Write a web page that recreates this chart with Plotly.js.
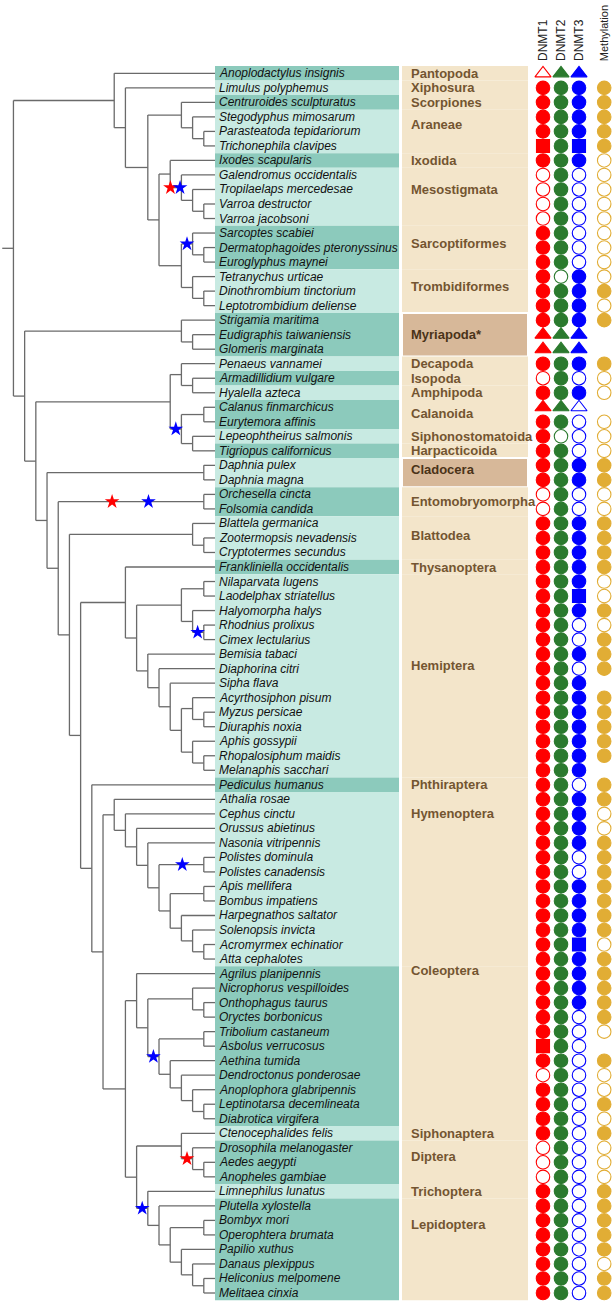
<!DOCTYPE html>
<html><head><meta charset="utf-8">
<script src="https://cdn.plot.ly/plotly-3.0.1.min.js"></script>
<style>html,body{margin:0;padding:0;background:#fff}#chart{width:612px;height:1302px}</style>
</head><body><div id="chart"></div>
<script>
// ---------------- DATA ----------------
const species = [
"Anoplodactylus insignis","Limulus polyphemus","Centruroides sculpturatus","Stegodyphus mimosarum",
"Parasteatoda tepidariorum","Trichonephila clavipes","Ixodes scapularis","Galendromus occidentalis",
"Tropilaelaps mercedesae","Varroa destructor","Varroa jacobsoni","Sarcoptes scabiei",
"Dermatophagoides pteronyssinus","Euroglyphus maynei","Tetranychus urticae","Dinothrombium tinctorium",
"Leptotrombidium deliense","Strigamia maritima","Eudigraphis taiwaniensis","Glomeris marginata",
"Penaeus vannamei","Armadillidium vulgare","Hyalella azteca","Calanus finmarchicus",
"Eurytemora affinis","Lepeophtheirus salmonis","Tigriopus californicus","Daphnia pulex",
"Daphnia magna","Orchesella cincta","Folsomia candida","Blattela germanica",
"Zootermopsis nevadensis","Cryptotermes secundus","Frankliniella occidentalis","Nilaparvata lugens",
"Laodelphax striatellus","Halyomorpha halys","Rhodnius prolixus","Cimex lectularius",
"Bemisia tabaci","Diaphorina citri","Sipha flava","Acyrthosiphon pisum",
"Myzus persicae","Diuraphis noxia","Aphis gossypii","Rhopalosiphum maidis",
"Melanaphis sacchari","Pediculus humanus","Athalia rosae","Cephus cinctu",
"Orussus abietinus","Nasonia vitripennis","Polistes dominula","Polistes canadensis",
"Apis mellifera","Bombus impatiens","Harpegnathos saltator","Solenopsis invicta",
"Acromyrmex echinatior","Atta cephalotes","Agrilus planipennis","Nicrophorus vespilloides",
"Onthophagus taurus","Oryctes borbonicus","Tribolium castaneum","Asbolus verrucosus",
"Aethina tumida","Dendroctonus ponderosae","Anoplophora glabripennis","Leptinotarsa decemlineata",
"Diabrotica virgifera","Ctenocephalides felis","Drosophila melanogaster","Aedes aegypti",
"Anopheles gambiae","Limnephilus lunatus","Plutella xylostella","Bombyx mori",
"Operophtera brumata","Papilio xuthus","Danaus plexippus","Heliconius melpomene","Melitaea cinxia"];

// order name, first species index, last species index
const orderNames = ["Pantopoda","Xiphosura","Scorpiones","Araneae","Ixodida","Mesostigmata","Sarcoptiformes",
"Trombidiformes","Myriapoda*","Decapoda","Isopoda","Amphipoda","Calanoida","Siphonostomatoida","Harpacticoida",
"Cladocera","Entomobryomorpha","Blattodea","Thysanoptera","Hemiptera","Phthiraptera","Hymenoptera","Coleoptera",
"Siphonaptera","Diptera","Trichoptera","Lepidoptera"];
const orderFirst = [0,1,2,3,6,7,11,14,17,20,21,22,23,25,26,27,29,31,34,35,49,50,62,73,74,77,78];
const orderLast  = [0,1,2,5,6,10,13,16,19,20,21,22,24,25,26,28,30,33,34,48,49,61,72,73,76,77,84];
const highlightedOrders = ["Myriapoda*","Cladocera"];

// symbol codes: F filled circle, O open circle, T filled triangle, t open triangle, S filled square, - none
const columns = ["DNMT1","DNMT2","DNMT3","Methylation"];
const dnmt1 = "tFFFFSFOOO"+"OFFFFFFFTT"+"FOFTFFFFFO"+"OFFFFFFFFF"+"FFFFFFFFFF"+"FFFFFFFFFF"+"FFFFFFFSFO"+"FFFFOOOFFF"+"FFFFF";
const dnmt2 = "TFFFFFFFFF"+"FFFFOFFFTT"+"FFFTFOFFFF"+"FFFFFFFFFF"+"FFFFFFFFFF"+"FFFFFFFFFF"+"FFFFFFFFFF"+"FFFFFFFFFF"+"FFFFF";
const dnmt3 = "TFFFFSFOOO"+"OOOOFFFFTT"+"FOFtOOOFFO"+"OFFFFFSFOO"+"FOFFFFFFFO"+"FFFFOOFFFF"+"SFFFFOOOOO"+"OOOOOOOOOO"+"OOOOO";
const methylation = "-FFFFFOOOO"+"OOOOOFOF--"+"FOO-OOOFFO"+"OFFFFOOFOF"+"FF-FFFFF-F"+"FOOFFFFFFF"+"OFFFFFO-FO"+"OFOFOOOFFF"+"FFOFF";

// cladogram: leaves = species index, internal label = node level (rank from tips)
const treeNewick = [
"(",
"(0,(1,((2,(3,(4,5)1)2)3,((6,(7,(8,(9,10)1)2)3)4,((11,(12,13)1)2,(14,(15,16)1)2)3)5)6)8)9",
",(",
"(17,(18,19)2)3",
",(",
"((20,(21,22)2)3,((23,24)1,(25,26)2)3)4",
",((27,28)1,((29,30)1,((31,(32,33)1)2,(",
"(34,(((35,36)1,(37,(38,39)1)2)3,(40,(41,(42,((43,(44,45)1)2,(46,(47,48)1)2)3)4)5)6)7)8",
",(49,(",
"(50,(51,(52,(53,((54,55)1,((56,57)1,(58,(59,(60,61)1)2)3)4)5)6)7)8)9",
",(",
"(62,((63,(64,65)1)2,((66,67)1,(68,(69,(70,(71,72)1)2)3)4)5)6)7",
",",
"((73,(74,(75,76)1)2)3,(77,(78,((79,80)1,(81,(82,(83,84)1)2)3)4)5)6)7",
")8)10)11)12)13)14)15)16)17)18"].join("");

// stars on branches: clade (first leaf, last leaf), colour, position along branch
const starFirst = [7,7,11,23,29,29,38,54,66,74,77];
const starLast  = [10,10,13,26,30,30,39,55,72,76,84];
const starColor = ["red","blue","blue","blue","red","blue","blue","blue","blue","red","blue"];
const starFrac  = [0.02,0.88,0.5,0.5,0.37,0.62,0.45,0.52,0.5,0.5,0.5];

// ---------------- LAYOUT / STYLE ----------------
const W = 612, H = 1302;
const rowTop = -5.05, rowBottom = 84.62;        // y range in row units
const treeRight = 215;                            // px where tips end
const levelsAcross = 19.2;
const labelX0 = 215, labelX1 = 399, orderX0 = 402, orderX1 = 528;
const darkTeal = "#8ccabc", lightTeal = "#c8eae2", tan = "#f3e5ca", darkTan = "#d7b899";
const orderLabelRow = [0,1,2,3.5,6,8,11.7,14.7,18,20,21,22,23.4,25,26,27.3,29.5,31.8,34,40.8,49,51,61.8,73,74.6,77,79.3];
const colX = [0,1,2,3.4];
const colColor = ["#ff0000","#2b7a2e","#0000ff","#e1ad35"];
const headerBottom = [62,62,62,62];
const headerSize = [12,12,12,11];

// ---------------- TREE ----------------
function parseNewick(s){
  let i=0;
  function node(){
    if(s[i]==="("){
      i++; const kids=[node()];
      while(s[i]===","){ i++; kids.push(node()); }
      i++; let lab="";
      while(i<s.length && /[0-9.]/.test(s[i])) lab+=s[i++];
      return {kids, level:+lab};
    }
    let lab=""; while(i<s.length && /[0-9]/.test(s[i])) lab+=s[i++];
    return {leaf:+lab, level:0};
  }
  return node();
}
const root = parseNewick(treeNewick);
const nodes = [];
function place(n, parent){
  n.parent = parent; nodes.push(n);
  if(n.kids){
    n.kids.forEach(k=>place(k,n));
    n.y = (n.kids[0].y + n.kids[n.kids.length-1].y)/2;
    n.first = n.kids[0].first; n.last = n.kids[n.kids.length-1].last;
  } else { n.y = n.leaf; n.first = n.last = n.leaf; }
}
place(root, null);
const ex=[], ey=[];
nodes.forEach(n=>{
  if(n.kids){
    ex.push(n.level, n.level, null); ey.push(n.kids[0].y, n.kids[n.kids.length-1].y, null);
    n.kids.forEach(k=>{ ex.push(n.level, k.level, null); ey.push(k.y, k.y, null); });
  }
});
ex.push(root.level+1, root.level, null); ey.push(root.y, root.y, null);

const sx=[], sy=[], sc=[];
starFirst.forEach((f,i)=>{
  const n = nodes.find(m=>m.kids && m.first===f && m.last===starLast[i]);
  const p = n.parent.level;
  sx.push(p - starFrac[i]*(p-n.level)); sy.push(n.y); sc.push(starColor[i]);
});

const traces = [];
traces.push({type:"scatter", mode:"lines", x:ex, y:ey, xaxis:"x", yaxis:"y",
  line:{color:"#6a6a6a", width:1.3}, hoverinfo:"skip"});
traces.push({type:"scatter", mode:"markers", x:sx, y:sy, xaxis:"x", yaxis:"y",
  marker:{symbol:"star", size:11, color:sc, opacity:1, line:{width:0}}, hoverinfo:"skip"});

const symMap = {F:"circle", O:"circle-open", T:"triangle-up", t:"triangle-up-open", S:"square"};
[dnmt1,dnmt2,dnmt3,methylation].forEach((codes,ci)=>{
  const xs=[], ys=[], syms=[], sizes=[];
  codes.split("").forEach((c,r)=>{
    if(c==="-") return;
    xs.push(colX[ci]); ys.push(r); syms.push(symMap[c]);
    sizes.push(c==="S" ? 13 : (c==="T"||c==="t") ? 14 : 13.5);
  });
  traces.push({type:"scatter", mode:"markers", x:xs, y:ys, xaxis:"x2", yaxis:"y",
    marker:{symbol:syms, size:sizes, sizemode:"diameter", color:colColor[ci], opacity:1,
            line:{color:colColor[ci], width:1.1}}, hoverinfo:"skip"});
});

// ---------------- SHAPES & TEXT ----------------
const shapes = [], annotations = [];
orderNames.forEach((name,k)=>{
  shapes.push({type:"rect", layer:"below", xref:"paper", yref:"y",
    x0:labelX0/W, x1:labelX1/W, y0:orderFirst[k]-0.5, y1:orderLast[k]+0.5,
    fillcolor: k%2===0 ? darkTeal : lightTeal, line:{width:0}});
  const hl = highlightedOrders.includes(name);
  shapes.push({type:"rect", layer:"below", xref:"paper", yref:"y",
    x0:orderX0/W, x1:orderX1/W, y0:orderFirst[k]-0.5, y1:orderLast[k]+0.5,
    fillcolor: hl ? darkTan : tan, line:{width:hl?2:0, color:"#ffffff"}});
  annotations.push({xref:"paper", yref:"y", x:(orderX0+7)/W, y:orderLabelRow[k], xanchor:"left", yanchor:"middle",
    text:"<b>"+name+"</b>", showarrow:false,
    font:{family:"Liberation Sans, Arial, sans-serif", size:13, color: hl ? "#4a3318" : "#735531"}});
});
species.forEach((s,r)=>{
  annotations.push({xref:"paper", yref:"y", x:(labelX0+2)/W, y:r, xanchor:"left", yanchor:"middle",
    text:"<i>"+s+"</i>", showarrow:false,
    font:{family:"Liberation Sans, Arial, sans-serif", size:12, color:"#111"}});
});
columns.forEach((c,ci)=>{
  annotations.push({xref:"x2", yref:"paper", x:colX[ci], y:1-headerBottom[ci]/H, xanchor:"center", yanchor:"bottom",
    text:c, textangle:-90, showarrow:false, borderpad:0,
    font:{family:"Liberation Sans, Arial, sans-serif", size:headerSize[ci], color:"#222"}});
});

const layout = {
  width:W, height:H, margin:{l:0,r:0,t:0,b:0}, paper_bgcolor:"#fff", plot_bgcolor:"rgba(0,0,0,0)",
  showlegend:false,
  xaxis:{domain:[0, treeRight/W], range:[levelsAcross, 0], visible:false, fixedrange:true},
  xaxis2:{domain:[525/W, 1], range:[-1, -1+87/18], visible:false, fixedrange:true},
  yaxis:{range:[rowBottom, rowTop], visible:false, fixedrange:true},
  shapes, annotations
};
Plotly.newPlot("chart", traces, layout, {staticPlot:true, displayModeBar:false});
</script>
</body></html>
